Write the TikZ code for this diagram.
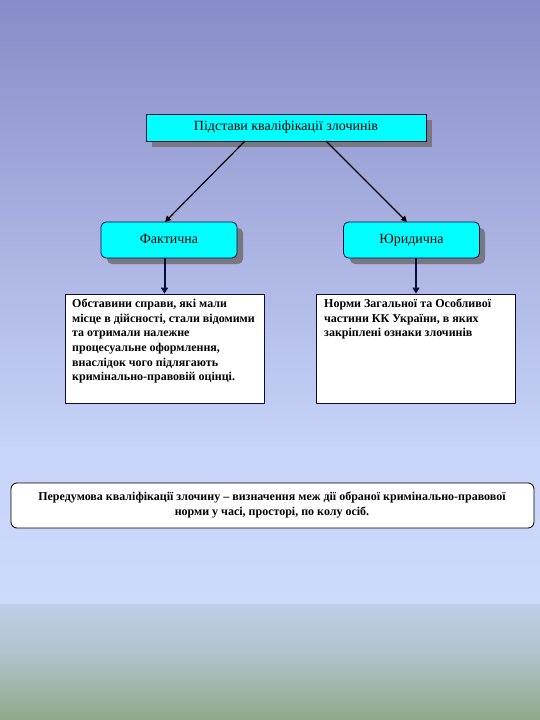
\documentclass[tikz,border=0pt]{standalone}
\usepackage{fontspec}
\setmainfont{Liberation Serif}
\usetikzlibrary{arrows.meta}
\definecolor{bgtop}{RGB}{136,140,200}
\definecolor{bgmid}{RGB}{200,212,248}
\definecolor{bglow}{RGB}{206,218,250}
\definecolor{bgb1}{RGB}{192,206,232}
\definecolor{bgb2}{RGB}{178,196,206}
\definecolor{bgbot}{RGB}{146,168,138}
\definecolor{cyanbox}{RGB}{0,255,255}
\definecolor{shadowgray}{RGB}{120,120,130}
\definecolor{framecol}{RGB}{10,10,60}
\tikzset{
  x=1pt, y=-1pt,
  topbox/.style={draw=framecol, line width=0.8pt, fill=cyanbox, minimum width=280pt, minimum height=27pt, inner sep=0pt, font=\fontsize{14}{16}\selectfont},
  catbox/.style={draw=framecol, line width=0.8pt, fill=cyanbox, rounded corners=5pt, minimum width=136pt, minimum height=36pt, inner sep=0pt, text height=10pt, text depth=3pt, font=\fontsize{14}{16}\selectfont},
  textbox/.style={draw=framecol, line width=0.8pt, fill=white, minimum width=199pt, minimum height=109pt, inner sep=0pt},
  bottombox/.style={draw=black, line width=0.8pt, fill=white, rounded corners=6pt, minimum width=523pt, minimum height=45pt, inner sep=0pt},
  conn/.style={draw=black, line width=1.2pt, -{Triangle[length=6pt,width=6pt]}},
  vconn/.style={draw=framecol, line width=2pt, -{Triangle[length=6pt,width=7pt]}},
  bodytext/.style={font=\bfseries\fontsize{12}{14.6}\selectfont, align=left, anchor=north west, inner sep=0pt}
}
\begin{document}
\begin{tikzpicture}
\useasboundingbox (0,0) rectangle (540,720);
% background
\fill[top color=bgtop, bottom color=bgmid] (0,0) rectangle (540,450);
\fill[top color=bgmid, bottom color=bglow] (0,450) rectangle (540,604);
\fill[top color=bgb1, bottom color=bgb2] (0,604) rectangle (540,650);
\fill[top color=bgb2, bottom color=bgbot] (0,650) rectangle (540,720);
% shadows
\fill[shadowgray] (152,120) rectangle (432,147);
\fill[shadowgray, rounded corners=5pt] (107,228) rectangle (243,264);
\fill[shadowgray, rounded corners=5pt] (350,228) rectangle (485,264);
% nodes
\node[topbox] (top) at (286,127.5) {Підстави кваліфікації злочинів};
\node[catbox] (fakt) at (169,240) {Фактична};
\node[catbox] (yur) at (411.5,240) {Юридична};
\node[textbox] (ltext) at (164.5,348.5) {};
\node[textbox] (rtext) at (416,348.5) {};
\node[bodytext] (lbody) at (72,299) {Обставини справи, які мали\\місце в дійсності, стали відомими\\та отримали належне\\процесуальне оформлення,\\внаслідок чого підлягають\\кримінально-правовій оцінці.};
\node[bodytext] (rbody) at (324,299) {Норми Загальної та Особливої\\частини КК України, в яких\\закріплені ознаки злочинів};
\node[bottombox] (bottom) at (272.5,505.5) {};
\node[font=\bfseries\fontsize{12}{15}\selectfont, align=center] (btext) at (272,504.5) {Передумова кваліфікації злочину – визначення меж дії обраної кримінально-правової\\норми у часі, просторі, по колу осіб.};
% connectors
\coordinate (t1) at (245,141);
\coordinate (t2) at (326,141);
\coordinate (f1) at (165,222);
\coordinate (y1) at (407,222);
\draw[conn] (t1) -- (f1);
\draw[conn] (t2) -- (y1);
\draw[vconn] (fakt.south -| ltext.north) -- (ltext.north);
\draw[vconn] (yur.south -| rtext.north) -- (rtext.north);
\end{tikzpicture}
\end{document}
